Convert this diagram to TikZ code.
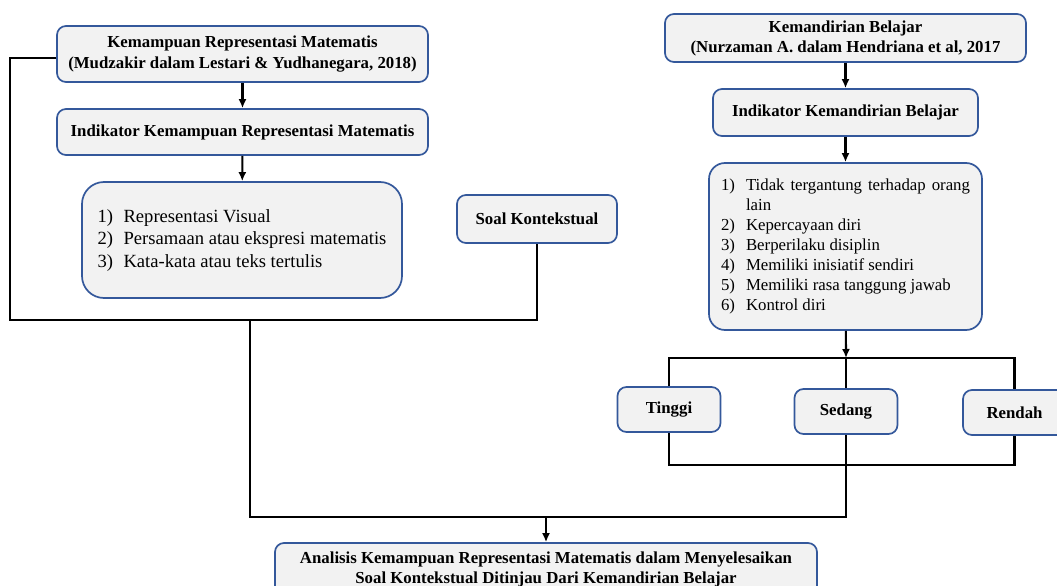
\documentclass[tikz,border=0pt]{standalone}
\usepackage{fontspec}
\setmainfont{Liberation Serif}
\usepackage{tikz}
\usepackage{xcolor}
\usetikzlibrary{
    arrows.meta,
    calc
}
\definecolor{boxblue}{RGB}{52,88,155}
\definecolor{boxgray}{RGB}{242,242,242}
\tikzset{
    box/.style={draw=boxblue, fill=boxgray, line width=1.7pt, rounded corners=9pt, align=center, inner sep=0pt,
        font=\bfseries\fontsize{16.8}{21}\selectfont},
    link/.style={line width=2.1pt},
    arrowlink/.style={link, -{Latex[length=9pt,width=8pt]}}
}

\begin{document}
\begin{tikzpicture}[x=1pt, y=-1pt]
                            \useasboundingbox (0,0) rectangle (1057,586);
                            \node[box, minimum width=371, minimum height=56] (repr) at (242.5,54) {Kemampuan Representasi Matematis\\(Mudzakir dalam Lestari \& Yudhanegara, 2018)};
                            \node[box, minimum width=371, minimum height=46] (reprind) at (242.5,132) {Indikator Kemampuan Representasi Matematis};
                            \node[box, rounded corners=22pt, minimum width=320, minimum height=116, font=\fontsize{18.6}{22.5}\selectfont] (reprlist) at (242,240) {\begin{tabular}{@{}p{26pt}@{}l@{}}1) & Representasi Visual\\2) & Persamaan atau ekspresi matematis\\3) & Kata-kata atau teks tertulis\end{tabular}};
                            \node[box, minimum width=160, minimum height=48] (soal) at (537,219) {Soal Kontekstual};
                            \node[box, minimum width=361, minimum height=48, font=\bfseries\fontsize{16.8}{20}\selectfont] (mandiri) at (845.5,38) {Kemandirian Belajar\\(Nurzaman A. dalam Hendriana et al, 2017};
                            \node[box, minimum width=265, minimum height=47] (mandiriind) at (845.5,112.5) {Indikator Kemandirian Belajar};
                            \node[box, rounded corners=16pt, minimum width=273, minimum height=167, font=\fontsize{16.8}{20}\selectfont] (mandirilist) at (845.5,246.5) {\begin{tabular}{@{}p{25pt}@{}p{224pt}@{}}1) & Tidak tergantung terhadap orang lain\\2) & Kepercayaan diri\\3) & Berperilaku disiplin\\4) & Memiliki inisiatif sendiri\\5) & Memiliki rasa tanggung jawab\\6) & Kontrol diri\end{tabular}};
                            \node[box, minimum width=103, minimum height=45] (tinggi) at (669,409.5) {Tinggi};
                            \node[box, minimum width=103, minimum height=45] (sedang) at (846,411.5) {Sedang};
                            \node[box, minimum width=103, minimum height=45] (rendah) at (1014.5,412.5) {Rendah};
                            \node[box, minimum width=542, minimum height=52, font=\bfseries\fontsize{16.8}{20}\selectfont] (analisis) at (546,569) {Analisis Kemampuan Representasi Matematis dalam Menyelesaikan\\Soal Kontekstual Ditinjau Dari Kemandirian Belajar};
                            \coordinate (jl) at (10,320);
                            \coordinate (jc) at (250,320);
                            \coordinate (jb) at (250,517);
                            \coordinate (jr) at (846,517);
                            \coordinate (split) at (846,358);
                            \coordinate (merge) at (846,465);
                            \draw[arrowlink] (repr) -- (reprind);
                            \draw[arrowlink] (reprind) -- (reprlist);
                            \draw[link] ([yshift=-4pt]repr.west) -| (jl) -| (soal.south);
                            \draw[link] (jc) -- (jb) -- (jr) -- (sedang.south);
                            \draw[arrowlink] (analisis.north |- jb) -- (analisis.north);
                            \draw[arrowlink] (mandiri) -- (mandiriind);
                            \draw[arrowlink] (mandiriind) -- (mandirilist);
                            \draw[arrowlink] (mandirilist) -- (split);
                            \draw[link] (tinggi.north) |- (split) -| (rendah.north);
                            \draw[link] (split) -- (sedang.north);
                            \draw[link] (tinggi.south) |- (merge) -| (rendah.south);
                        \end{tikzpicture}
\end{document}
